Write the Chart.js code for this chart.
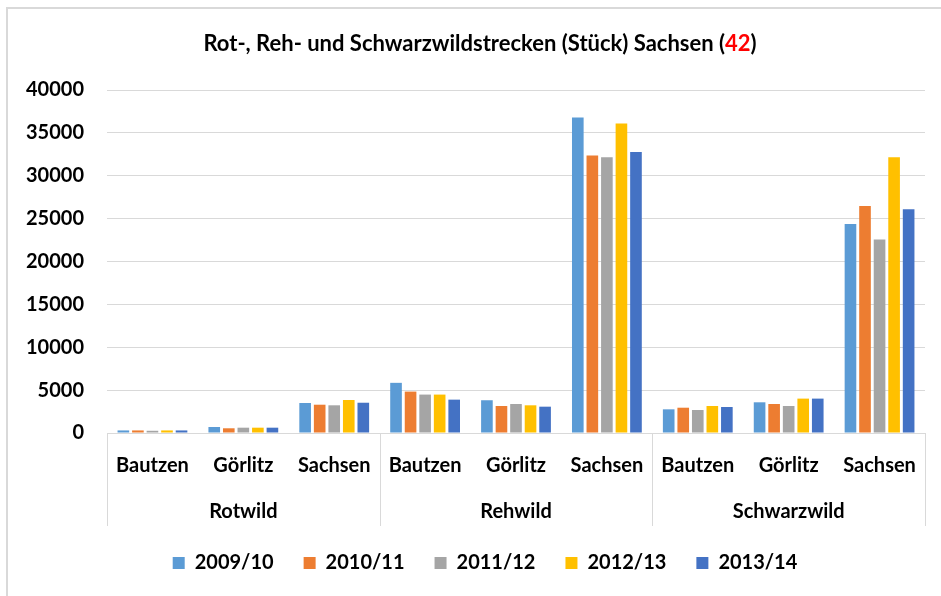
<!DOCTYPE html>
<html>
<head>
<meta charset="utf-8">
<script src="https://cdn.jsdelivr.net/npm/chart.js@4/dist/chart.umd.min.js"></script>
<style>
  html, body { margin: 0; padding: 0; background: #fff; }
  #wrap { position: relative; width: 941px; height: 596px; overflow: hidden; }
  #frame { position: absolute; left: 6px; top: 7px; width: 1000px; height: 700px;
           border-left: 2px solid #d9d9d9; border-top: 2px solid #d9d9d9; }
  #title { position: absolute; left: 0; width: 960px; top: 31px; text-align: center;
           font-family: Lato, sans-serif; font-weight: bold; font-size: 22px; color: #000; line-height: 24px; }
  #title .red { color: #ff0000; }
  canvas { position: absolute; left: 0; top: 0; }
</style>
</head>
<body>
<div id="wrap">
  <div id="frame"></div>
  <canvas id="c" width="941" height="596"></canvas>
  <div id="title">Rot-, Reh- und Schwarzwildstrecken (Stück) Sachsen (<span class="red">42</span>)</div>
</div>
<script>
const categories = ['Bautzen', 'Görlitz', 'Sachsen', 'Bautzen', 'Görlitz', 'Sachsen', 'Bautzen', 'Görlitz', 'Sachsen'];
const groups = ['Rotwild', 'Rehwild', 'Schwarzwild'];
const seriesLabels = ['2009/10', '2010/11', '2011/12', '2012/13', '2013/14'];
const s2009 = [300, 700, 3500, 5850, 3820, 36800, 2760, 3580, 24380];
const s2010 = [300, 550, 3300, 4830, 3150, 32350, 2950, 3380, 26470];
const s2011 = [260, 620, 3230, 4480, 3380, 32160, 2680, 3150, 22560];
const s2012 = [300, 620, 3850, 4480, 3230, 36100, 3150, 4010, 32160];
const s2013 = [300, 620, 3530, 3890, 3070, 32770, 3030, 4010, 26080];
const yTicks = [0, 5000, 10000, 15000, 20000, 25000, 30000, 35000, 40000];
const colors = ['#5B9BD5', '#ED7D31', '#A5A5A5', '#FFC000', '#4472C4'];

const seriesValues = [s2009, s2010, s2011, s2012, s2013];
const FW = 'bold';

const groupPlugin = {
  id: 'groupLabels',
  afterLayout(chart) {
    chart.legend.left += 19;
    chart.legend.right += 19;
  },
  afterDraw(chart) {
    const ctx = chart.ctx;
    const x = chart.scales.x;
    const area = chart.chartArea;
    const bottom = 526;
    ctx.save();
    ctx.strokeStyle = '#d9d9d9';
    ctx.lineWidth = 1;
    const seps = [area.left];
    for (let g = 1; g < groups.length; g++) {
      seps.push((x.getPixelForValue(3 * g - 1) + x.getPixelForValue(3 * g)) / 2);
    }
    seps.push(area.right);
    seps.forEach(px => {
      const p = Math.round(px) + 0.5;
      ctx.beginPath();
      ctx.moveTo(p, area.bottom);
      ctx.lineTo(p, bottom);
      ctx.stroke();
    });
    ctx.fillStyle = '#000';
    ctx.font = FW + ' 20px Lato';
    ctx.textAlign = 'center';
    ctx.textBaseline = 'middle';
    groups.forEach((name, g) => {
      const cx = (x.getPixelForValue(3 * g) + x.getPixelForValue(3 * g + 2)) / 2;
      ctx.fillText(name, cx, 512);
    });
    ctx.restore();
  }
};

Chart.defaults.font.family = 'Lato';
Chart.defaults.font.weight = FW;
Chart.defaults.font.size = 20;
Chart.defaults.color = '#000';

new Chart(document.getElementById('c'), {
  type: 'bar',
  data: {
    labels: categories,
    datasets: seriesLabels.map((lab, i) => ({
      label: lab,
      data: seriesValues[i],
      backgroundColor: colors[i],
      borderWidth: 0,
      barPercentage: 0.8,
      categoryPercentage: 0.8
    }))
  },
  options: {
    responsive: false,
    animation: false,
    layout: { padding: { left: 7, right: 16, top: 90, bottom: 13 } },
    plugins: {
      title: { display: false },
      tooltip: { enabled: false },
      legend: {
        position: 'bottom',
        labels: { boxWidth: 12, boxHeight: 12, padding: 30, font: { size: 20, weight: FW }, color: '#000' }
      }
    },
    scales: {
      x: {
        grid: { display: false, drawTicks: false },
        border: { display: true, color: '#d9d9d9' },
        ticks: { autoSkip: false, maxRotation: 0, padding: 21, font: { size: 20, weight: FW } },
        afterFit(s) { s.height = 90; }
      },
      y: {
        min: 0, max: 40000,
        afterBuildTicks(s) { s.ticks = yTicks.map(v => ({ value: v })); },
        grid: { color: '#d9d9d9', lineWidth: 1, drawTicks: false },
        border: { display: false },
        ticks: { padding: 23, font: { size: 20, weight: FW }, callback: v => String(v) },
        afterFit(s) { s.width = 100; }
      }
    }
  },
  plugins: [groupPlugin]
});
</script>
</body>
</html>
